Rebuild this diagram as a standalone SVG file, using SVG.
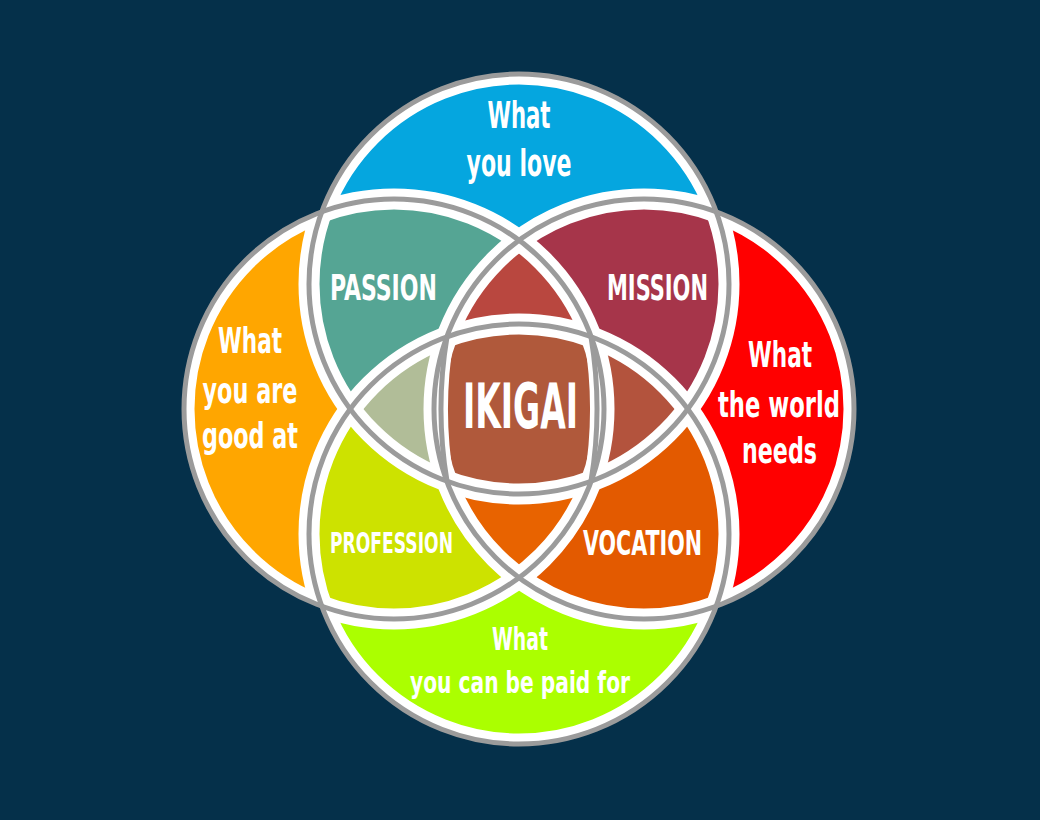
<svg xmlns="http://www.w3.org/2000/svg" width="1040" height="820" viewBox="0 0 1040 820">
  <defs>
    <clipPath id="cT"><circle cx="519" cy="284" r="210"/></clipPath>
    <clipPath id="cL"><circle cx="394" cy="409" r="210"/></clipPath>
    <clipPath id="cR"><circle cx="644" cy="409" r="210"/></clipPath>
    <clipPath id="cB"><circle cx="519" cy="534" r="210"/></clipPath>
    <clipPath id="cU">
      <circle cx="519" cy="284" r="210"/>
      <circle cx="394" cy="409" r="210"/>
      <circle cx="644" cy="409" r="210"/>
      <circle cx="519" cy="534" r="210"/>
    </clipPath>
    <circle id="T" cx="519" cy="284" r="210"/>
    <circle id="L" cx="394" cy="409" r="210"/>
    <circle id="R" cx="644" cy="409" r="210"/>
    <circle id="B" cx="519" cy="534" r="210"/>
    <path id="arcL" d="M447,337 A435,435 0 0,0 447,481"/>
    <path id="arcR" d="M591,337 A435,435 0 0,1 591,481"/>
  </defs>
  <style>
    .lbl { fill: #ffffff; font-family: "Liberation Sans Narrow", "DejaVu Sans Condensed", "Liberation Sans", sans-serif; font-weight: bold; text-anchor: middle; }
    .white { fill: none; stroke: #ffffff; stroke-width: 21; }
    .gray { fill: none; stroke: #9b9b9b; stroke-width: 5; }
  </style>
  <rect width="1040" height="820" fill="#05304a"/>

  <g id="love">
    <use href="#T" fill="#05a6df"/>
    <text class="lbl" x="519" y="128" font-size="38" textLength="63" lengthAdjust="spacingAndGlyphs">What</text>
    <text class="lbl" x="519" y="176" font-size="38" textLength="105" lengthAdjust="spacingAndGlyphs">you love</text>
  </g>
  <g id="good">
    <use href="#L" fill="#ffa600"/>
    <text class="lbl" x="250" y="353" font-size="36" textLength="64" lengthAdjust="spacingAndGlyphs">What</text>
    <text class="lbl" x="250" y="403" font-size="36" textLength="95" lengthAdjust="spacingAndGlyphs">you are</text>
    <text class="lbl" x="250" y="448" font-size="36" textLength="96" lengthAdjust="spacingAndGlyphs">good at</text>
  </g>
  <g id="world">
    <use href="#R" fill="#ff0000"/>
    <text class="lbl" x="780" y="367" font-size="36" textLength="64" lengthAdjust="spacingAndGlyphs">What</text>
    <text class="lbl" x="779" y="417" font-size="36" textLength="122" lengthAdjust="spacingAndGlyphs">the world</text>
    <text class="lbl" x="779.5" y="463" font-size="36" textLength="75" lengthAdjust="spacingAndGlyphs">needs</text>
  </g>
  <g id="paid">
    <use href="#B" fill="#abff00"/>
    <text class="lbl" x="520" y="650" font-size="32" textLength="56" lengthAdjust="spacingAndGlyphs">What</text>
    <text class="lbl" x="520" y="693" font-size="31" textLength="220" lengthAdjust="spacingAndGlyphs">you can be paid for</text>
  </g>

  <g id="passion">
    <g clip-path="url(#cT)"><use href="#L" fill="#55a594"/></g>
    <text class="lbl" x="383.5" y="300" font-size="36" textLength="107" lengthAdjust="spacingAndGlyphs">PASSION</text>
  </g>
  <g id="mission">
    <g clip-path="url(#cT)"><use href="#R" fill="#a6354a"/></g>
    <text class="lbl" x="657.5" y="300" font-size="36" textLength="101" lengthAdjust="spacingAndGlyphs">MISSION</text>
  </g>
  <g id="profession">
    <g clip-path="url(#cB)"><use href="#L" fill="#cde200"/></g>
    <text class="lbl" x="391.5" y="553" font-size="29" textLength="123" lengthAdjust="spacingAndGlyphs">PROFESSION</text>
  </g>
  <g id="vocation">
    <g clip-path="url(#cB)"><use href="#R" fill="#e35a00"/></g>
    <text class="lbl" x="642.5" y="555" font-size="34" textLength="119" lengthAdjust="spacingAndGlyphs">VOCATION</text>
  </g>

  <g id="tri-top">
    <g clip-path="url(#cT)"><g clip-path="url(#cL)"><use href="#R" fill="#b9473f"/></g></g>
  </g>
  <g id="tri-left">
    <g clip-path="url(#cT)"><g clip-path="url(#cB)"><use href="#L" fill="#b1bd98"/></g></g>
  </g>
  <g id="tri-right">
    <g clip-path="url(#cT)"><g clip-path="url(#cB)"><use href="#R" fill="#b3533d"/></g></g>
  </g>
  <g id="tri-bottom">
    <g clip-path="url(#cB)"><g clip-path="url(#cL)"><use href="#R" fill="#e86300"/></g></g>
  </g>

  <g id="ikigai">
    <g clip-path="url(#cT)"><g clip-path="url(#cB)"><g clip-path="url(#cL)"><use href="#R" fill="#b0593b"/></g></g></g>
  </g>

  <g id="outlines">
    <g clip-path="url(#cU)">
      <use href="#T" class="white"/>
      <use href="#L" class="white"/>
      <use href="#R" class="white"/>
      <use href="#B" class="white"/>
      <use href="#arcL" class="white" style="stroke-width:14"/>
      <use href="#arcR" class="white" style="stroke-width:14"/>
    </g>
    <use href="#T" class="gray"/>
    <use href="#L" class="gray"/>
    <use href="#R" class="gray"/>
    <use href="#B" class="gray"/>
    <use href="#arcL" class="gray"/>
    <use href="#arcR" class="gray"/>
  </g>

  <g id="ikigai-label">
    <text class="lbl" x="520.5" y="428" font-size="62" textLength="115" lengthAdjust="spacingAndGlyphs">IKIGAI</text>
  </g>
</svg>
